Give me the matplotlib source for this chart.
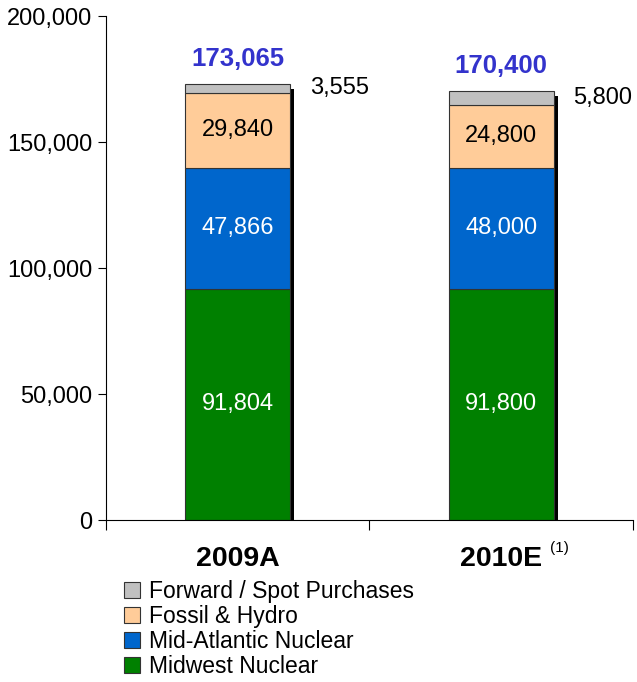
import matplotlib.pyplot as plt
import numpy as np

plt.rcParams['font.family'] = ['Liberation Sans', 'DejaVu Sans']

categories = ['2009A', '2010E']
midwest_nuclear = [91804, 91800]
mid_atlantic_nuclear = [47866, 48000]
fossil_hydro = [29840, 24800]
forward_spot = [3555, 5800]
totals = [173065, 170400]

series = [
    ('Midwest Nuclear', midwest_nuclear, '#008000', 'white'),
    ('Mid-Atlantic Nuclear', mid_atlantic_nuclear, '#0066CC', 'white'),
    ('Fossil & Hydro', fossil_hydro, '#FFCC99', 'black'),
    ('Forward / Spot Purchases', forward_spot, '#C0C0C0', None),
]

fig = plt.figure(figsize=(6.37, 6.82), dpi=100)
ax = fig.add_axes([0.1664, 0.2375, 0.8273, 0.739])

x = np.arange(len(categories)) + 0.5
width = 0.4

# drop shadow on the right of each stack
ax.bar(x + 0.015, np.array(totals) - 2000, width, color='black', zorder=1)

bottom = np.zeros(len(categories))
handles = []
for name, vals, color, txtcolor in series:
    rects = ax.bar(x, vals, width, bottom=bottom, color=color,
                   edgecolor='#333333', linewidth=0.8, label=name, zorder=2)
    handles.append(rects)
    for xi, b, v in zip(x, bottom, vals):
        if txtcolor is not None:
            ax.text(xi, b + v / 2, f'{v:,}', ha='center', va='center',
                    color=txtcolor, fontsize=17, zorder=3)
        else:
            ax.annotate(f'{v:,}', xy=(xi + width / 2, b + v / 2),
                        xytext=(14, 0), textcoords='offset points',
                        ha='left', va='center', fontsize=17)
    bottom += np.array(vals)

for xi, t in zip(x, totals):
    ax.annotate(f'{t:,}', xy=(xi, t), xytext=(0, 18),
                textcoords='offset points', ha='center', va='center',
                fontsize=18.5, fontweight='bold', color='#3333CC')

ax.set_ylim(0, 200000)
ax.set_xlim(0, 2)
ticks = [0, 50000, 100000, 150000, 200000]
ax.set_yticks(ticks)
ax.set_yticklabels([f'{v:,}' for v in ticks])
ax.tick_params(axis='y', labelsize=17, length=6, pad=4, direction='out')
ax.set_xticks([0, 1, 2])
ax.set_xticklabels([])
ax.set_xticks(x, minor=True)
ax.set_xticklabels(categories, minor=True, fontsize=20.5, fontweight='bold')
ax.tick_params(axis='x', which='major', length=7, direction='out')
ax.tick_params(axis='x', which='minor', length=0, pad=19)
ax.spines['top'].set_visible(False)
ax.spines['right'].set_visible(False)

ax.annotate('(1)', xy=(x[1], 0), xytext=(42, -20), textcoords='offset points',
            ha='center', va='center', fontsize=11)

fig.legend(handles[::-1], [s[0] for s in series][::-1], loc='upper left',
           bbox_to_anchor=(0.177, 0.167), frameon=False, fontsize=16.5,
           handlelength=0.7, handleheight=0.7, handletextpad=0.4,
           labelspacing=0.1, borderpad=0)

plt.savefig('out.png', dpi=100)
